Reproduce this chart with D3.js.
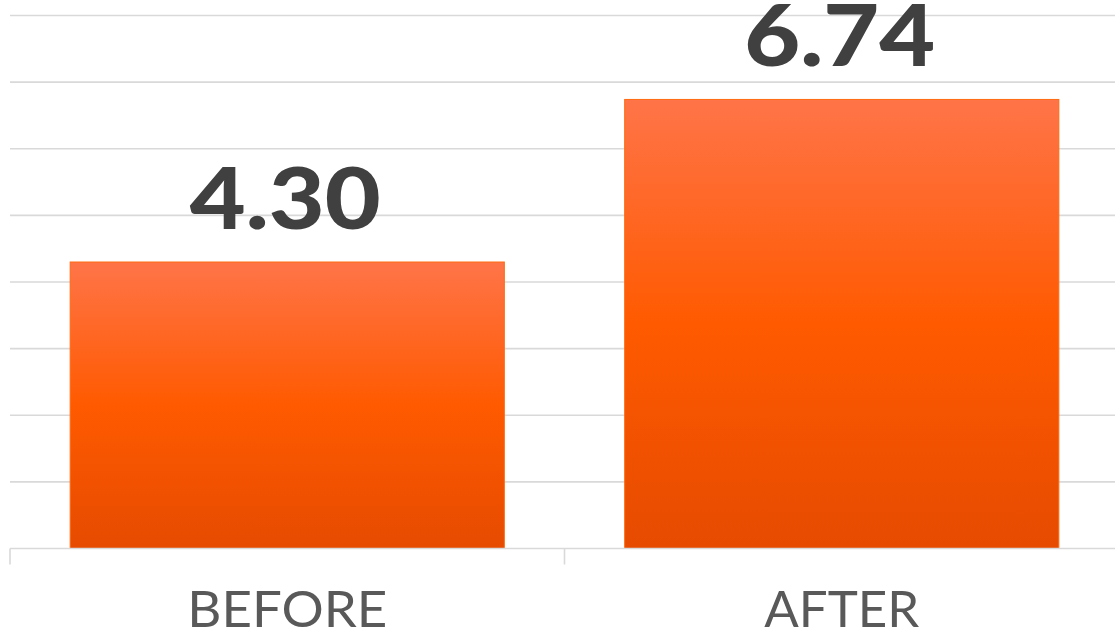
<!DOCTYPE html>
<html>
<head>
<meta charset="utf-8">
<script src="https://cdn.jsdelivr.net/npm/d3@7"></script>
<style>
  html, body { margin: 0; padding: 0; background: #ffffff; }
  svg { display: block; }
</style>
</head>
<body>
<svg id="chart" width="1115" height="628"></svg>
<script>
// Chart data
const categories = ["BEFORE", "AFTER"];
const values = [4.30, 6.74];
const valueLabels = ["4.30", "6.74"];
const gridTicks = [0, 1, 2, 3, 4, 5, 6, 7, 8];

const svg = d3.select("#chart");
const W = 1115, H = 628;
const plot = { left: 10, right: 1119, top: 15.5, bottom: 548.5 };

const x = d3.scaleBand()
  .domain(categories)
  .range([plot.left, plot.right])
  .paddingInner(0.217)
  .paddingOuter(0.1085);

const y = d3.scaleLinear()
  .domain([0, 8])
  .range([plot.bottom, plot.top]);

// Vertical gradient for bars: lighter top, saturated middle, deeper bottom
const defs = svg.append("defs");
const grad = defs.append("linearGradient")
  .attr("id", "barGrad")
  .attr("x1", 0).attr("y1", 0).attr("x2", 0).attr("y2", 1);
grad.append("stop").attr("offset", "0%").attr("stop-color", "#ff7448");
grad.append("stop").attr("offset", "50%").attr("stop-color", "#ff5a00");
grad.append("stop").attr("offset", "100%").attr("stop-color", "#e64b00");

// Horizontal gridlines
svg.append("g")
  .selectAll("line")
  .data(gridTicks.slice(1))
  .join("line")
  .attr("x1", plot.left)
  .attr("x2", plot.right)
  .attr("y1", d => y(d))
  .attr("y2", d => y(d))
  .attr("stroke", "#d9d9d9")
  .attr("stroke-width", 1.6);

// Bars
svg.append("g")
  .selectAll("rect")
  .data(categories)
  .join("rect")
  .attr("x", d => x(d))
  .attr("width", x.bandwidth())
  .attr("y", (d, i) => y(values[i]))
  .attr("height", (d, i) => y(0) - y(values[i]))
  .attr("fill", "url(#barGrad)")
  .attr("stroke", "#ff6a10")
  .attr("stroke-width", 1);

// Category axis: baseline and tick marks between categories
const axis = d3.axisBottom(x).tickSize(0).tickFormat("");
const axisG = svg.append("g")
  .attr("transform", `translate(0,${plot.bottom})`)
  .call(axis);
axisG.select(".domain").remove();
axisG.append("line")
  .attr("x1", plot.left).attr("x2", plot.right)
  .attr("y1", 0).attr("y2", 0)
  .attr("stroke", "#d9d9d9").attr("stroke-width", 1.6);
const step = x.step();
const boundaries = d3.range(categories.length + 1).map(i => plot.left + i * step);
axisG.selectAll(".sep")
  .data(boundaries)
  .join("line")
  .attr("class", "sep")
  .attr("x1", d => d).attr("x2", d => d)
  .attr("y1", 0).attr("y2", 16)
  .attr("stroke", "#d9d9d9").attr("stroke-width", 1.6);

// Category labels
const catWidths = { BEFORE: 200, AFTER: 155 };
svg.append("g")
  .selectAll("text")
  .data(categories)
  .join("text")
  .attr("x", d => x(d) + x.bandwidth() / 2)
  .attr("y", 627)
  .attr("text-anchor", "middle")
  .attr("font-family", "Lato, 'Open Sans', sans-serif")
  .attr("font-size", 51)
  .attr("font-weight", 400)
  .attr("fill", "#595959")
  .attr("textLength", d => catWidths[d])
  .attr("lengthAdjust", "spacingAndGlyphs")
  .text(d => d);

// Value labels above bars
svg.append("g")
  .selectAll("text")
  .data(categories)
  .join("text")
  .attr("x", (d, i) => x(d) + x.bandwidth() / 2 - 2)
  .attr("y", (d, i) => y(values[i]) - 33)
  .attr("text-anchor", "middle")
  .attr("font-family", "Lato, sans-serif")
  .attr("font-size", 85)
  .attr("font-weight", 900)
  .attr("fill", "#404040")
  .attr("textLength", 191)
  .attr("lengthAdjust", "spacingAndGlyphs")
  .text((d, i) => valueLabels[i]);
</script>
</body>
</html>
